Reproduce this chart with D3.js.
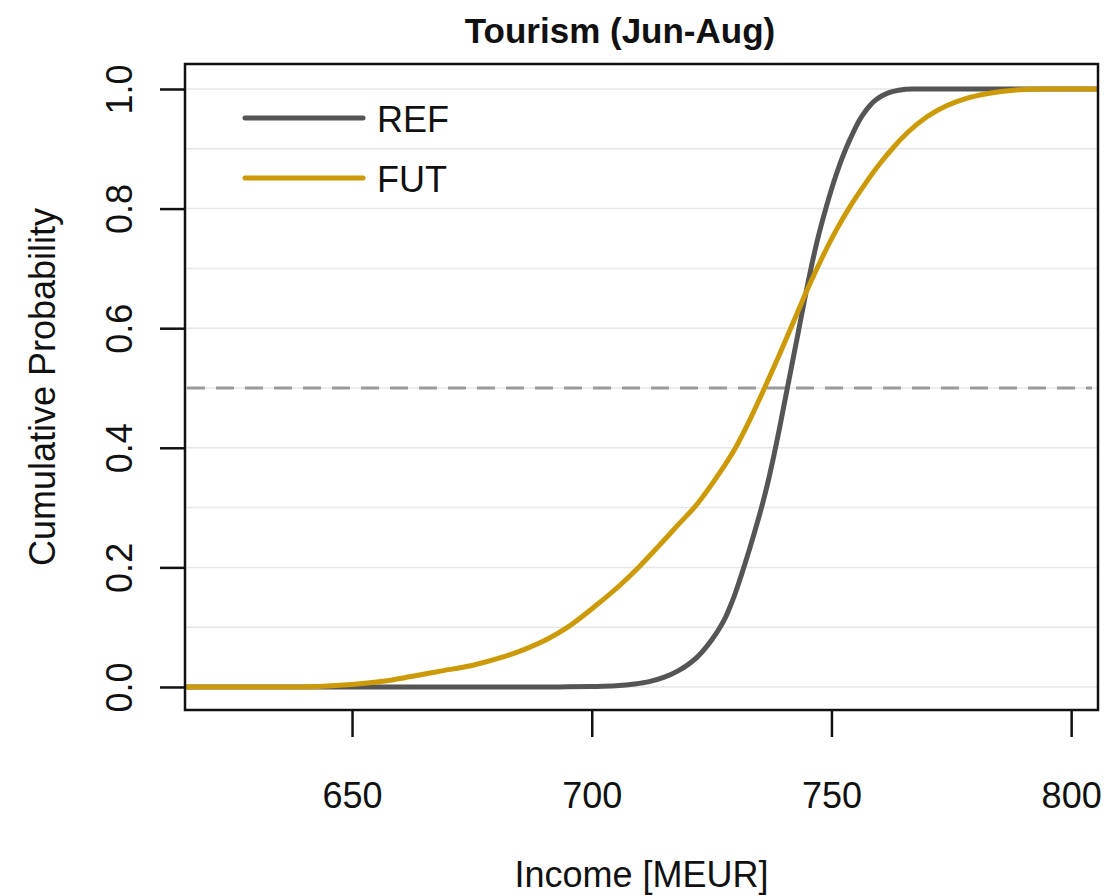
<!DOCTYPE html>
<html>
<head>
<meta charset="utf-8">
<script src="https://cdn.jsdelivr.net/npm/d3@7"></script>
<style>
  html, body { margin: 0; padding: 0; background: #fff; }
  text { font-family: "Liberation Sans", Arial, sans-serif; fill: #111; }
</style>
</head>
<body>
<div id="chart"></div>
<script>
// x values (MEUR) and cumulative probabilities
const refIncome = [615, 660, 690, 695, 700, 705, 709, 712, 715, 718, 720, 722, 724, 726, 728, 729, 730, 731, 732, 733, 734, 735, 736, 737, 738, 739, 740, 741, 743, 745, 747, 749, 751, 753, 754, 755, 756, 757, 758, 759, 760, 762, 764, 767, 806];
const refProb   = [0, 0, 0, 0.0002, 0.0008, 0.002, 0.005, 0.009, 0.016, 0.027, 0.037, 0.05, 0.068, 0.09, 0.118, 0.137, 0.158, 0.182, 0.207, 0.233, 0.26, 0.288, 0.318, 0.351, 0.387, 0.426, 0.467, 0.508, 0.59, 0.672, 0.745, 0.805, 0.857, 0.9, 0.918, 0.935, 0.95, 0.962, 0.972, 0.98, 0.986, 0.994, 0.998, 1, 1];

const futIncome = [615, 635, 643, 650, 656, 662, 668, 675, 681, 686, 691, 695, 701, 706, 710, 714, 718, 722, 726, 730, 733, 736, 739, 742, 745, 748, 751, 754, 757, 760, 763, 766, 770, 774, 778, 783, 788, 794, 806];
const futProb   = [0, 0, 0.001, 0.004, 0.009, 0.017, 0.026, 0.036, 0.049, 0.063, 0.081, 0.1, 0.137, 0.171, 0.202, 0.236, 0.271, 0.306, 0.35, 0.4, 0.447, 0.499, 0.553, 0.609, 0.665, 0.717, 0.764, 0.805, 0.841, 0.874, 0.903, 0.928, 0.954, 0.972, 0.984, 0.993, 0.998, 1, 1];

const seriesNames = ["REF", "FUT"];
const seriesColors = ["#555555", "#CC9A06"];
const xTicks = [650, 700, 750, 800];
const yTicks = [0, 0.2, 0.4, 0.6, 0.8, 1.0];
const yGrid = [0, 0.1, 0.2, 0.3, 0.4, 0.5, 0.6, 0.7, 0.8, 0.9, 1.0];
const medianLevel = 0.5;

const width = 1116, height = 895;
const plot = {left: 185, right: 1098, top: 64, bottom: 710};

const svg = d3.select("#chart").append("svg")
    .attr("width", width)
    .attr("height", height);

const x = d3.scaleLinear().domain([615.16, 805.6]).range([plot.left, plot.right]);
const y = d3.scaleLinear().domain([-0.0385, 1.0418]).range([plot.bottom, plot.top]);

svg.append("clipPath").attr("id", "clip")
    .append("rect")
    .attr("x", plot.left).attr("y", plot.top)
    .attr("width", plot.right - plot.left).attr("height", plot.bottom - plot.top);

// grid
svg.append("g").selectAll("line")
    .data(yGrid)
    .join("line")
    .attr("x1", plot.left).attr("x2", plot.right)
    .attr("y1", d => y(d)).attr("y2", d => y(d))
    .attr("stroke", "#e6e6e6")
    .attr("stroke-width", 1.5);

// median line
svg.append("line")
    .attr("x1", plot.left + 2).attr("x2", plot.right - 6)
    .attr("y1", y(medianLevel)).attr("y2", y(medianLevel))
    .attr("stroke", "#9a9a9a")
    .attr("stroke-width", 3)
    .attr("stroke-dasharray", "18,11");

const line = d3.line()
    .x(d => x(d[0]))
    .y(d => y(d[1]))
    .curve(d3.curveMonotoneX);

const series = [
    d3.zip(refIncome, refProb),
    d3.zip(futIncome, futProb)
];

svg.append("g").attr("clip-path", "url(#clip)")
    .selectAll("path")
    .data(series)
    .join("path")
    .attr("d", line)
    .attr("fill", "none")
    .attr("stroke", (d, i) => seriesColors[i])
    .attr("stroke-width", 5)
    .attr("stroke-linecap", "round");

// box
svg.append("rect")
    .attr("x", plot.left).attr("y", plot.top)
    .attr("width", plot.right - plot.left).attr("height", plot.bottom - plot.top)
    .attr("fill", "none")
    .attr("stroke", "#111")
    .attr("stroke-width", 2.5);

// x axis
const xAxis = svg.append("g")
    .attr("transform", `translate(0,${plot.bottom})`)
    .call(d3.axisBottom(x).tickValues(xTicks).tickSize(27).tickPadding(45).tickSizeOuter(0));
xAxis.select(".domain").remove();
xAxis.selectAll(".tick line").attr("stroke", "#111").attr("stroke-width", 2.5);
xAxis.selectAll(".tick text").attr("font-size", 36).attr("font-family", "Liberation Sans, Arial, sans-serif").attr("fill", "#111");

// y axis
const yAxis = svg.append("g")
    .attr("transform", `translate(${plot.left},0)`)
    .call(d3.axisLeft(y).tickValues(yTicks).tickSize(25).tickFormat(d3.format(".1f")).tickSizeOuter(0));
yAxis.select(".domain").remove();
yAxis.selectAll(".tick line").attr("stroke", "#111").attr("stroke-width", 2.5);
yAxis.selectAll(".tick text")
    .attr("font-size", 36)
    .attr("font-family", "Liberation Sans, Arial, sans-serif")
    .attr("fill", "#111")
    .attr("x", null).attr("dy", null)
    .attr("text-anchor", "middle")
    .attr("transform", "translate(-53,0) rotate(-90)");

// titles
svg.append("text")
    .attr("x", 620).attr("y", 43)
    .attr("text-anchor", "middle")
    .attr("font-size", 35)
    .attr("font-weight", "bold")
    .text("Tourism (Jun-Aug)");

svg.append("text")
    .attr("x", (plot.left + plot.right) / 2).attr("y", 887)
    .attr("text-anchor", "middle")
    .attr("font-size", 36)
    .text("Income [MEUR]");

svg.append("text")
    .attr("transform", `translate(55,${(plot.top + plot.bottom) / 2}) rotate(-90)`)
    .attr("text-anchor", "middle")
    .attr("font-size", 36)
    .text("Cumulative Probability");

// legend
const legend = svg.append("g").selectAll("g")
    .data(seriesNames)
    .join("g")
    .attr("transform", (d, i) => `translate(245,${118 + i * 60})`);
legend.append("line")
    .attr("x1", 0).attr("x2", 118)
    .attr("stroke", (d, i) => seriesColors[i])
    .attr("stroke-width", 5)
    .attr("stroke-linecap", "round");
legend.append("text")
    .attr("x", 132).attr("y", 14)
    .attr("font-size", 36)
    .text(d => d);
</script>
</body>
</html>
